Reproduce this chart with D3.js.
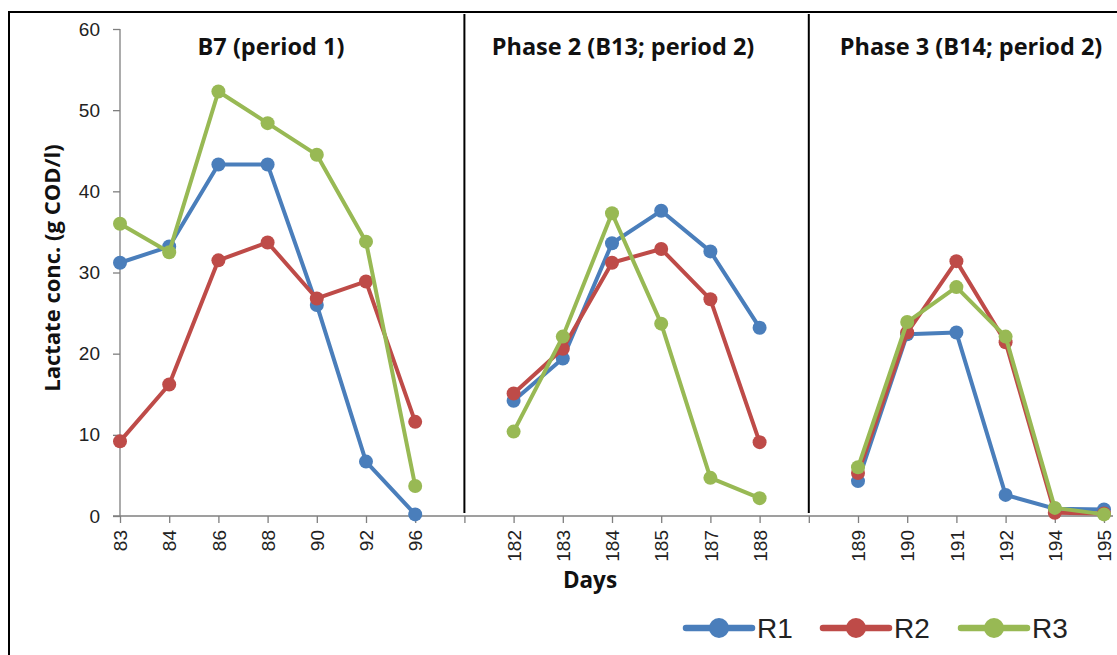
<!DOCTYPE html>
<html>
<head>
<meta charset="utf-8">
<script src="https://cdn.jsdelivr.net/npm/d3@7"></script>
<style>
  html, body { margin: 0; padding: 0; background: #fff; }
  svg { display: block; }
</style>
</head>
<body>
<svg id="chart" width="1117" height="655"></svg>
<script>
// Sampling days, with an empty slot between each phase
const days = ["83", "84", "86", "88", "90", "92", "96", "",
              "182", "183", "184", "185", "187", "188", "",
              "189", "190", "191", "192", "194", "195"];

// Lactate concentration (g COD/l) per reactor; null = no sample (phase gap)
const r1 = [31.2, 33.2, 43.3, 43.3, 26.0, 6.7, 0.2, null,
            14.2, 19.4, 33.6, 37.6, 32.6, 23.2, null,
            4.3, 22.4, 22.6, 2.6, 0.9, 0.8];
const r2 = [9.2, 16.2, 31.5, 33.7, 26.8, 28.9, 11.6, null,
            15.1, 20.6, 31.2, 32.9, 26.7, 9.1, null,
            5.3, 22.6, 31.4, 21.4, 0.4, 0.3];
const r3 = [36.0, 32.5, 52.3, 48.4, 44.5, 33.8, 3.7, null,
            10.4, 22.1, 37.3, 23.7, 4.7, 2.2, null,
            6.0, 23.9, 28.2, 22.1, 1.0, 0.2];

const seriesNames = ["R1", "R2", "R3"];
const seriesColors = ["#4a7ebb", "#be4b48", "#98b954"];
const yTicks = [0, 10, 20, 30, 40, 50, 60];
const phaseTitles = ["B7 (period 1)", "Phase 2 (B13; period 2)", "Phase 3 (B14; period 2)"];

const svg = d3.select("#chart");
const W = 1117, H = 655;

// unique keys so the empty slots stay distinct on the point scale
const keys = days.map((d, i) => d === "" ? "gap" + i : d);

const x = d3.scalePoint().domain(keys).range([120, 1104]);
const y = d3.scaleLinear().domain([0, 60]).range([516, 29]);

// outer frame
svg.append("path")
  .attr("d", `M9,${H} L9,12 L${W},12`)
  .attr("fill", "none").attr("stroke", "#000").attr("stroke-width", 2);

// y axis
const yAxis = svg.append("g")
  .attr("transform", "translate(120,0)")
  .call(d3.axisLeft(y).tickValues(yTicks).tickSize(7).tickPadding(13));
yAxis.select(".domain").attr("stroke", "#7f7f7f").attr("stroke-width", 1.3).attr("d", "M0,29V516");
yAxis.selectAll(".tick line").attr("stroke", "#7f7f7f").attr("stroke-width", 1.3);
yAxis.selectAll(".tick text")
  .attr("font-family", "Liberation Sans, Arial, sans-serif")
  .attr("font-size", 19).attr("fill", "#222");

// x axis
const xAxis = svg.append("g")
  .attr("transform", "translate(0,516)")
  .call(d3.axisBottom(x).tickSize(7).tickFormat(k => k.startsWith("gap") ? "" : k));
xAxis.select(".domain").attr("stroke", "#7f7f7f").attr("stroke-width", 1.3)
  .attr("d", "M113,0H1113");
xAxis.selectAll(".tick line").attr("stroke", "#7f7f7f").attr("stroke-width", 1.3);
xAxis.selectAll(".tick text")
  .attr("font-family", "Liberation Sans, Arial, sans-serif")
  .attr("font-size", 19).attr("fill", "#222")
  .attr("text-anchor", "end")
  .attr("transform", "rotate(-90)")
  .attr("x", -14).attr("y", 0).attr("dy", "0.35em");

// phase separators at the empty slots
keys.filter(k => k.startsWith("gap")).forEach(k => {
  svg.append("line")
    .attr("x1", x(k)).attr("x2", x(k))
    .attr("y1", 14).attr("y2", 513)
    .attr("stroke", "#000").attr("stroke-width", 2);
});

// phase titles
const titleCenters = [271, 623, 971];
phaseTitles.forEach((t, i) => {
  svg.append("text")
    .attr("x", titleCenters[i]).attr("y", 55)
    .attr("text-anchor", "middle")
    .attr("font-family", "Open Sans, sans-serif")
    .attr("font-weight", "bold").attr("font-size", 23.5)
    .attr("fill", "#111")
    .text(t);
});

// axis titles
svg.append("text")
  .attr("transform", "translate(60,268) rotate(-90)")
  .attr("text-anchor", "middle")
  .attr("font-family", "Open Sans, sans-serif")
  .attr("font-weight", "bold").attr("font-size", 22)
  .attr("fill", "#111")
  .text("Lactate conc. (g COD/l)");

svg.append("text")
  .attr("x", 590).attr("y", 588)
  .attr("text-anchor", "middle")
  .attr("font-family", "Open Sans, sans-serif")
  .attr("font-weight", "bold").attr("font-size", 22.5)
  .attr("fill", "#111")
  .text("Days");

// series lines and markers
const allSeries = [r1, r2, r3];
const line = d3.line()
  .defined(d => d.v !== null)
  .x(d => x(d.k)).y(d => y(d.v));

allSeries.forEach((vals, si) => {
  const pts = vals.map((v, i) => ({ k: keys[i], v }));
  const g = svg.append("g");
  g.append("path")
    .datum(pts)
    .attr("d", line)
    .attr("fill", "none")
    .attr("stroke", seriesColors[si])
    .attr("stroke-width", 4)
    .attr("stroke-linejoin", "round");
  g.selectAll("circle")
    .data(pts.filter(d => d.v !== null))
    .join("circle")
    .attr("cx", d => x(d.k)).attr("cy", d => y(d.v))
    .attr("r", 7)
    .attr("fill", seriesColors[si]);
});

// legend
const legendX = [686, 823, 961];
seriesNames.forEach((n, i) => {
  const g = svg.append("g").attr("transform", `translate(${legendX[i]},628)`);
  g.append("line").attr("x1", 0).attr("x2", 66).attr("y1", 0).attr("y2", 0)
    .attr("stroke", seriesColors[i]).attr("stroke-width", 6.5).attr("stroke-linecap", "round");
  g.append("circle").attr("cx", 33).attr("cy", 0).attr("r", 10).attr("fill", seriesColors[i]);
  g.append("text").attr("x", 71).attr("y", 0).attr("dy", "0.36em")
    .attr("font-family", "Liberation Sans, Arial, sans-serif")
    .attr("font-size", 28).attr("fill", "#222")
    .text(n);
});
</script>
</body>
</html>
